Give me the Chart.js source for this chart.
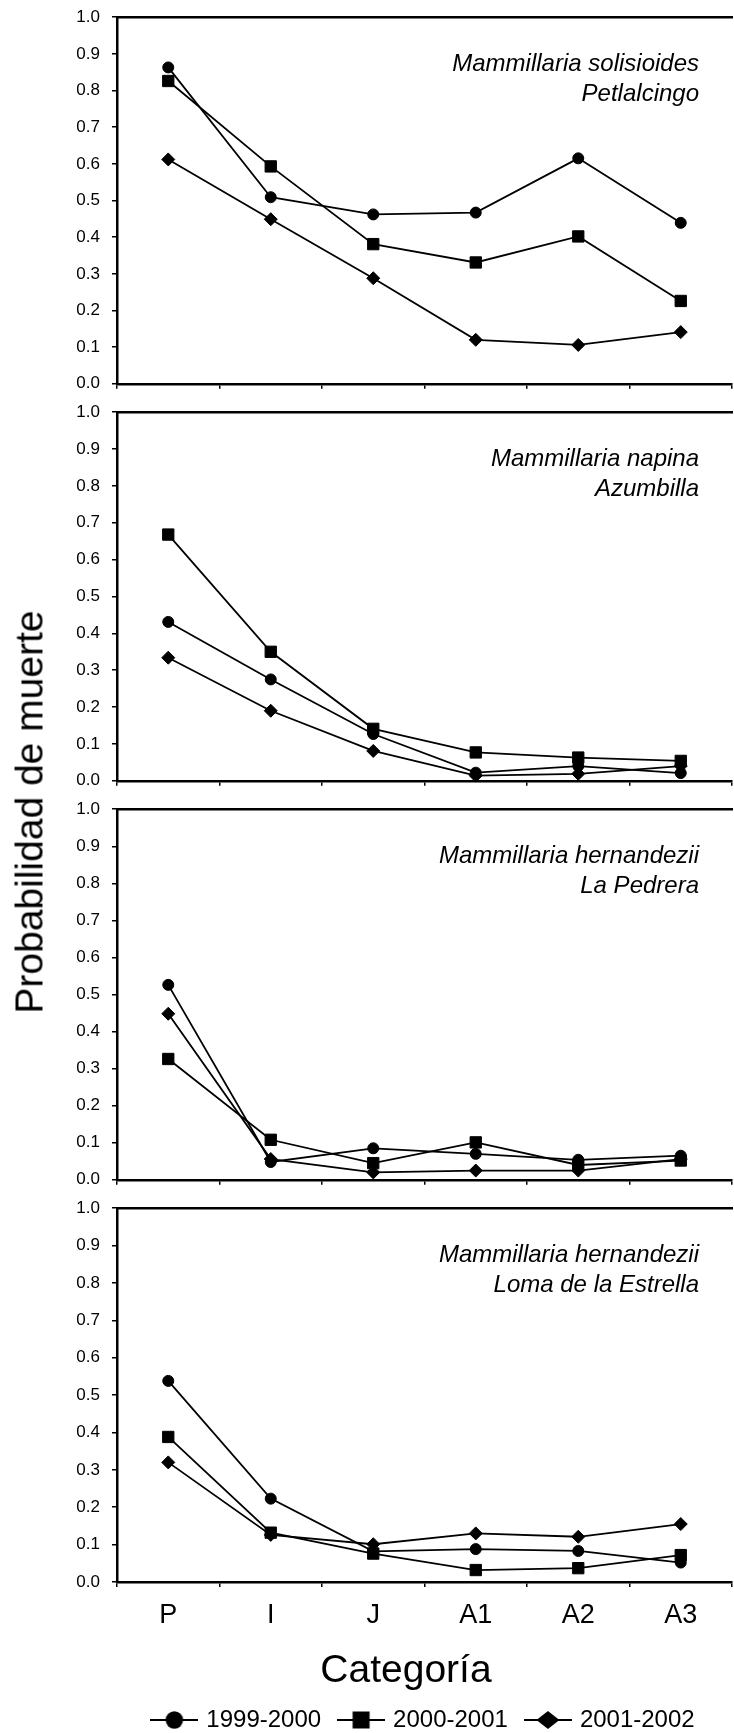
<!DOCTYPE html>
<html>
<head>
<meta charset="utf-8">
<script src="https://cdn.jsdelivr.net/npm/chart.js@4.4.1/dist/chart.umd.min.js"></script>
<style>
html, body { margin: 0; padding: 0; background: #fff; overflow: hidden; width: 734px; height: 1733px; }
#wrap { position: relative; width: 734px; height: 1733px; overflow: hidden; background: #fff; }
canvas.panel { position: absolute; left: 0; }
.axtitle { position: absolute; font-family: "Liberation Sans", Arial, sans-serif; font-size: 39px; line-height: 39px; color: #000; white-space: nowrap; }
#ytitle { left: 29px; top: 812px; transform: translate(-50%, -50%) rotate(-90deg); }
#xtitle { left: 406px; top: 1649px; transform: translateX(-50%); }
</style>
</head>
<body>
<div id="wrap">
  <canvas id="c0" class="panel"></canvas>
  <canvas id="c1" class="panel"></canvas>
  <canvas id="c2" class="panel"></canvas>
  <canvas id="c3" class="panel"></canvas>
  <div id="ytitle" class="axtitle"></div>
  <div id="xtitle" class="axtitle"></div>
</div>
<script>
// ---------------- DATA ----------------
const categories = ['P', 'I', 'J', 'A1', 'A2', 'A3'];
const seriesNames = ['1999-2000', '2000-2001', '2001-2002'];
const yTickValues = [0.0, 0.1, 0.2, 0.3, 0.4, 0.5, 0.6, 0.7, 0.8, 0.9, 1.0];
const xAxisTitle = 'Categoría';
const yAxisTitle = 'Probabilidad de muerte';
const panelTitles = [
  ['Mammillaria solisioides', 'Petlalcingo'],
  ['Mammillaria napina', 'Azumbilla'],
  ['Mammillaria hernandezii', 'La Pedrera'],
  ['Mammillaria hernandezii', 'Loma de la Estrella']
];

const solisioides_1999_2000 = [0.863, 0.509, 0.462, 0.467, 0.615, 0.439];
const solisioides_2000_2001 = [0.826, 0.593, 0.381, 0.331, 0.402, 0.226];
const solisioides_2001_2002 = [0.612, 0.449, 0.288, 0.120, 0.106, 0.141];

const napina_1999_2000 = [0.431, 0.275, 0.127, 0.022, 0.040, 0.021];
const napina_2000_2001 = [0.668, 0.350, 0.141, 0.077, 0.063, 0.054];
const napina_2001_2002 = [0.334, 0.190, 0.081, 0.014, 0.019, 0.040];

const pedrera_1999_2000 = [0.526, 0.048, 0.085, 0.070, 0.054, 0.065];
const pedrera_2000_2001 = [0.326, 0.108, 0.045, 0.101, 0.040, 0.052];
const pedrera_2001_2002 = [0.448, 0.056, 0.020, 0.025, 0.025, 0.056];

const estrella_1999_2000 = [0.538, 0.223, 0.082, 0.088, 0.083, 0.052];
const estrella_2000_2001 = [0.388, 0.132, 0.076, 0.032, 0.037, 0.072];
const estrella_2001_2002 = [0.320, 0.126, 0.101, 0.130, 0.121, 0.155];

const panelSeries = [
  [solisioides_1999_2000, solisioides_2000_2001, solisioides_2001_2002],
  [napina_1999_2000, napina_2000_2001, napina_2001_2002],
  [pedrera_1999_2000, pedrera_2000_2001, pedrera_2001_2002],
  [estrella_1999_2000, estrella_2000_2001, estrella_2001_2002]
];

// ---------------- LAYOUT / STYLE ----------------
const FONT = '"Liberation Sans", Arial, sans-serif';
const CANVAS_W = 741;          // plot extends slightly beyond the 734px window
const AXIS_LEFT = 117;
const PANEL_TOP = [17, 412, 809, 1208];
const PANEL_BOTTOM = [384, 781, 1180, 1582];
const PAD_TOP = 16;
const XAXIS_H_SMALL = 12;
const XAXIS_H_LAST = 106;
const markerStyle = ['circle', 'rect', 'rectRot'];
const markerRadius = [5.5, 8, 6.5];

Chart.defaults.font.family = FONT;
Chart.defaults.color = '#000';

document.getElementById('ytitle').textContent = yAxisTitle;
document.getElementById('xtitle').textContent = xAxisTitle;

function legendGlyph(k) {
  const c = document.createElement('canvas');
  c.width = 48; c.height = 24;
  const g = c.getContext('2d');
  g.strokeStyle = '#000'; g.lineWidth = 2.2;
  g.beginPath(); g.moveTo(0, 12); g.lineTo(48, 12); g.stroke();
  g.fillStyle = '#000';
  g.beginPath();
  if (k === 0) {
    g.arc(24, 12, 8.7, 0, Math.PI * 2);
  } else if (k === 1) {
    g.rect(15.5, 3.5, 17, 17);
  } else {
    g.moveTo(12.5, 12); g.lineTo(24, 3); g.lineTo(35.5, 12); g.lineTo(24, 21); g.closePath();
  }
  g.fill();
  return c;
}
const glyphs = [0, 1, 2].map(legendGlyph);

const panelLabelPlugin = {
  id: 'panelLabel',
  afterDraw(chart, args, opts) {
    const ctx = chart.ctx, ca = chart.chartArea;
    ctx.save();
    ctx.font = 'italic 24px ' + FONT;
    ctx.fillStyle = '#000';
    ctx.textAlign = 'right';
    ctx.textBaseline = 'alphabetic';
    (opts.lines || []).forEach((t, k) => ctx.fillText(t, 699, ca.top + 54 + 30 * k));
    ctx.restore();
  }
};

function config(i) {
  const last = i === 3;
  return {
    type: 'line',
    data: {
      labels: categories,
      datasets: seriesNames.map((name, k) => ({
        label: name,
        data: panelSeries[i][k],
        borderColor: '#000',
        backgroundColor: '#000',
        borderWidth: 1.8,
        pointStyle: markerStyle[k],
        pointRadius: markerRadius[k],
        pointHoverRadius: markerRadius[k],
        pointBorderWidth: 1,
        pointBorderColor: '#000',
        pointBackgroundColor: '#000',
        tension: 0,
        fill: false,
        clip: false
      }))
    },
    options: {
      responsive: false,
      maintainAspectRatio: false,
      animation: false,
      events: [],
      layout: { padding: { top: PAD_TOP, left: 0, right: 0, bottom: 0 } },
      plugins: {
        tooltip: { enabled: false },
        panelLabel: { lines: panelTitles[i] },
        legend: {
          display: last,
          position: 'bottom',
          fullSize: false,
          labels: {
            usePointStyle: true,
            pointStyleWidth: 40,
            padding: 20,
            color: '#000',
            font: { size: 24, family: FONT },
            generateLabels: () => seriesNames.map((name, k) => ({
              text: name, pointStyle: glyphs[k], fillStyle: '#000', strokeStyle: '#000',
              lineWidth: 0, hidden: false, datasetIndex: k, fontColor: '#000'
            }))
          }
        }
      },
      scales: {
        x: {
          type: 'category',
          position: 'bottom',
          offset: true,
          grid: { offset: true, drawOnChartArea: false, drawTicks: true, tickLength: 5, color: '#000', lineWidth: 1.5 },
          border: { display: true, color: '#000', width: 2.5 },
          ticks: { display: last, padding: 12, color: '#000', font: { size: 27, family: FONT }, maxRotation: 0, autoSkip: false },
          afterFit: s => { s.height = last ? XAXIS_H_LAST : XAXIS_H_SMALL; }
        },
        xTop: {
          type: 'category',
          position: 'top',
          offset: true,
          grid: { display: false, drawTicks: false },
          border: { display: true, color: '#000', width: 2.5 },
          ticks: { display: false },
          afterFit: s => { s.height = 0; }
        },
        y: {
          type: 'linear',
          position: 'left',
          min: 0,
          max: 1,
          grid: { drawOnChartArea: false, drawTicks: true, tickLength: 5, color: '#000', lineWidth: 1.5 },
          border: { display: true, color: '#000', width: 2.5 },
          ticks: { padding: 12, color: '#000', font: { size: 17, family: FONT }, callback: v => Number(v).toFixed(1) },
          afterBuildTicks: s => { s.ticks = yTickValues.map(v => ({ value: v })); },
          afterFit: s => { s.width = AXIS_LEFT; }
        }
      }
    },
    plugins: [panelLabelPlugin]
  };
}

function buildPanel(i) {
  const canvas = document.getElementById('c' + i);
  const want = PANEL_BOTTOM[i] - PANEL_TOP[i];
  let H = PAD_TOP + want + (i === 3 ? XAXIS_H_LAST + 60 : XAXIS_H_SMALL);
  canvas.width = CANVAS_W; canvas.height = H;
  let chart = new Chart(canvas, config(i));
  let ca = chart.chartArea;
  const dh = Math.round(want - (ca.bottom - ca.top));
  if (dh !== 0) {
    chart.destroy();
    H += dh;
    canvas.width = CANVAS_W; canvas.height = H;
    canvas.style.width = CANVAS_W + 'px'; canvas.style.height = H + 'px';
    chart = new Chart(canvas, config(i));
    ca = chart.chartArea;
  }
  canvas.style.top = Math.round(PANEL_TOP[i] - ca.top) + 'px';
  return chart;
}

[0, 1, 2, 3].forEach(buildPanel);
</script>
</body>
</html>
